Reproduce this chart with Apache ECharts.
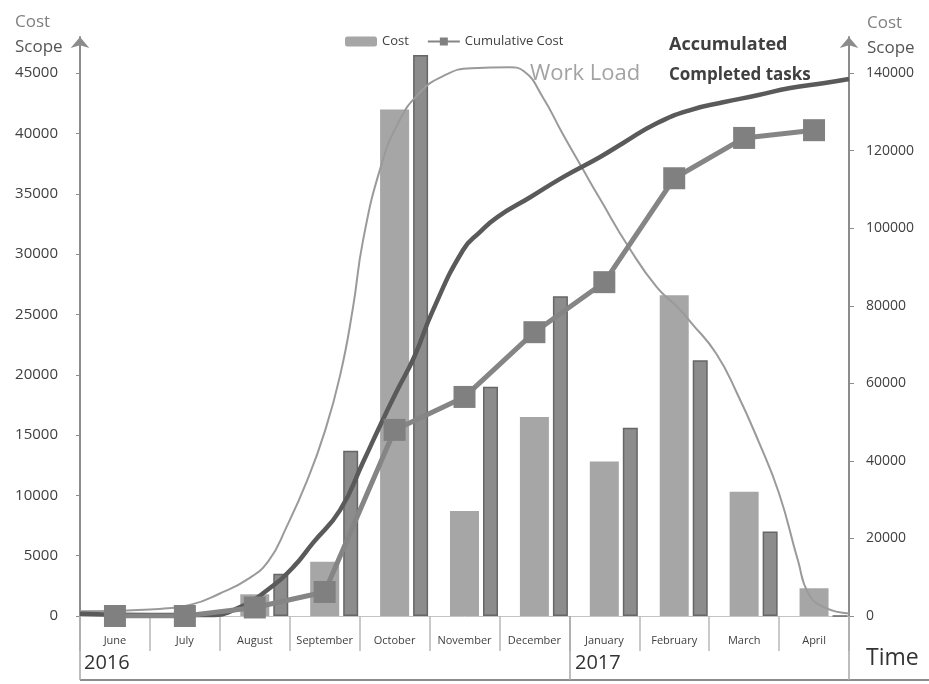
<!DOCTYPE html>
<html>
<head>
<meta charset="utf-8">
<title>Cost and Scope over Time</title>
<script src="https://cdn.jsdelivr.net/npm/echarts@6/dist/echarts.min.js"></script>
<style>
  html, body { margin: 0; padding: 0; background: #ffffff; }
  #chart { width: 929px; height: 684px; }
</style>
</head>
<body>
<div id="chart"></div>
<script>
// Months along the time axis (June 2016 – April 2017)
const months = ['June', 'July', 'August', 'September', 'October', 'November',
                'December', 'January', 'February', 'March', 'April'];

// Monthly cost (light bars, left axis)
const costValues = [0, 0, 1800, 4500, 42000, 8700, 16500, 12800, 26600, 10300, 2300];

// Second monthly cost bar (dark bars, left axis)
const actualCostValues = [0, 0, 3500, 13700, 46500, 19000, 26500, 15600, 21200, 7000, 0];

// Cumulative cost (squares, right axis)
const cumulativeCost = [0, 0, 2200, 6200, 48000, 56500, 73200, 86100, 112900, 123300, 125300];

// Work load curve: [position in months from June start, scope on right axis]
const workLoadCurve = [
  [0.0, 1200], [1.0, 1700], [1.6, 3000], [2.0, 5800], [2.4, 9500], [2.7, 14300],
  [2.95, 22800], [3.25, 35000], [3.5, 47500], [3.72, 62000], [3.9, 79000],
  [4.05, 97000], [4.3, 115700], [4.55, 127100], [4.85, 134800], [5.2, 139300],
  [5.6, 141300], [6.15, 141500], [6.35, 140500], [6.62, 133800], [6.9, 124500],
  [7.2, 115000], [7.45, 107200], [7.85, 95100], [8.25, 84800], [8.55, 79600],
  [8.75, 75500], [9.1, 67700], [9.4, 57400], [9.7, 45300], [10.0, 31600],
  [10.27, 14300], [10.42, 5800], [10.65, 2200], [11.0, 650]
];

// Accumulated completed tasks: [position in months from June start, scope on right axis]
const completedTasksCurve = [
  [0.0, 600], [1.0, 250], [1.86, 250], [2.29, 2300], [2.68, 6700], [3.05, 12600],
  [3.33, 18800], [3.72, 27300], [4.05, 39700], [4.31, 49800], [4.54, 58300],
  [4.78, 66800], [5.05, 78900], [5.48, 94400], [5.72, 99000], [5.97, 102900],
  [6.44, 108000], [6.91, 113200], [7.44, 118400], [7.77, 122000], [8.25, 127100],
  [8.73, 130500], [9.2, 132500], [9.69, 134300], [10.16, 136200], [10.63, 137400],
  [11.0, 138500]
];

// Tick labels on both value axes
const leftTicks = [0, 5000, 10000, 15000, 20000, 25000, 30000, 35000, 40000, 45000];
const rightTicks = [0, 20000, 40000, 60000, 80000, 100000, 120000, 140000];

// Axis ranges: the lines run a little past the top tick so the arrow heads sit above it
const leftMax = 48000;
const rightMax = leftMax * rightTicks[rightTicks.length - 1] / leftTicks[leftTicks.length - 1];

const FONT = 'Open Sans';
const AXIS_GREY = '#8c8c8c';
const plainNumber = function (v) { return String(v); };

const chart = echarts.init(document.getElementById('chart'), null, { renderer: 'canvas' });

const option = {
  backgroundColor: '#ffffff',
  animation: false,
  textStyle: { fontFamily: FONT },
  grid: { left: 80, right: 80, top: 37, bottom: 68, containLabel: false },
  legend: {
    data: ['Cost', 'Cumulative Cost'],
    left: 340,
    top: 30,
    itemWidth: 32,
    itemHeight: 10,
    itemGap: 18,
    textStyle: { fontFamily: FONT, fontSize: 13, color: '#404040' }
  },
  xAxis: [
    {
      // month labels with short dividers between them
      type: 'category',
      data: months,
      position: 'bottom',
      boundaryGap: true,
      axisLine: { lineStyle: { color: '#c4c4c4', width: 1 } },
      axisTick: { show: true, interval: 0, length: 35, lineStyle: { color: '#b8b8b8', width: 1.5 } },
      axisLabel: { interval: 0, margin: 19, fontSize: 11, color: '#404040', fontFamily: FONT },
      splitLine: { show: false }
    },
    {
      // year borders: start of 2016, start of 2017 and the end of the range
      type: 'category',
      data: months,
      position: 'bottom',
      boundaryGap: true,
      axisLine: { show: false },
      axisTick: {
        show: true,
        length: 64,
        interval: function (index) { return index === 0 || index === 7; },
        lineStyle: { color: '#a8a8a8', width: 1.5 }
      },
      axisLabel: { show: false },
      splitLine: { show: false }
    },
    {
      // continuous time scale for the smooth curves
      type: 'value',
      position: 'bottom',
      min: 0,
      max: months.length,
      show: false
    }
  ],
  yAxis: [
    {
      type: 'value',
      position: 'left',
      min: 0,
      max: leftMax,
      axisLine: {
        show: true,
        symbol: ['none', 'arrow'],
        symbolSize: [14, 11],
        lineStyle: { color: AXIS_GREY, width: 2 }
      },
      axisTick: { show: true, inside: false, length: 4, customValues: leftTicks, lineStyle: { color: AXIS_GREY } },
      axisLabel: { customValues: leftTicks, formatter: plainNumber, margin: 22, fontSize: 15, color: '#404040', fontFamily: FONT },
      splitLine: { show: false }
    },
    {
      type: 'value',
      position: 'right',
      min: 0,
      max: rightMax,
      axisLine: {
        show: true,
        symbol: ['none', 'arrow'],
        symbolSize: [14, 11],
        lineStyle: { color: AXIS_GREY, width: 2 }
      },
      axisTick: { show: true, inside: false, length: 5, customValues: rightTicks, lineStyle: { color: AXIS_GREY } },
      axisLabel: { customValues: rightTicks, formatter: plainNumber, margin: 17, fontSize: 14, color: '#404040', fontFamily: FONT },
      splitLine: { show: false }
    }
  ],
  series: [
    {
      // empty slot so the light bar stays centred and the dark bar sits to its right
      name: 'slot',
      type: 'bar',
      xAxisIndex: 0,
      yAxisIndex: 0,
      data: [],
      barWidth: 16.7,
      barGap: '13.8%',
      silent: true
    },
    {
      name: 'Cost',
      type: 'bar',
      xAxisIndex: 0,
      yAxisIndex: 0,
      data: costValues,
      barWidth: 29,
      barGap: '13.8%',
      itemStyle: { color: '#a6a6a6' },
      z: 2
    },
    {
      name: 'Actual Cost',
      type: 'bar',
      xAxisIndex: 0,
      yAxisIndex: 0,
      data: actualCostValues,
      barWidth: 15,
      barGap: '13.8%',
      itemStyle: { color: '#8c8c8c', borderColor: '#666666', borderWidth: 1.5 },
      z: 2
    },
    {
      name: 'Work Load',
      type: 'line',
      xAxisIndex: 2,
      yAxisIndex: 1,
      data: workLoadCurve,
      smooth: 0.5,
      showSymbol: false,
      lineStyle: { color: '#9a9a9a', width: 2 },
      z: 3
    },
    {
      name: 'Accumulated Completed tasks',
      type: 'line',
      xAxisIndex: 2,
      yAxisIndex: 1,
      data: completedTasksCurve,
      smooth: 0.5,
      showSymbol: false,
      lineStyle: { color: '#5a5a5a', width: 4.5 },
      z: 4
    },
    {
      name: 'Cumulative Cost',
      type: 'line',
      xAxisIndex: 0,
      yAxisIndex: 1,
      data: cumulativeCost,
      symbol: 'rect',
      symbolSize: 22,
      lineStyle: { color: '#858585', width: 5 },
      itemStyle: { color: '#808080' },
      z: 5
    }
  ],
  graphic: [
    { type: 'text', left: 15, top: 14, style: { text: 'Cost', font: '17px "Open Sans"', fill: '#808080' } },
    { type: 'text', left: 15, top: 39, style: { text: 'Scope', font: '17px "Open Sans"', fill: '#555555' } },
    { type: 'text', left: 867, top: 15, style: { text: 'Cost', font: '17px "Open Sans"', fill: '#808080' } },
    { type: 'text', left: 867, top: 40, style: { text: 'Scope', font: '17px "Open Sans"', fill: '#555555' } },
    { type: 'text', left: 530, top: 63, style: { text: 'Work Load', font: '22px "Open Sans"', fill: '#a3a3a3' } },
    { type: 'text', left: 669, top: 36, style: { text: 'Accumulated', font: 'bold 18px "Open Sans"', fill: '#404040' } },
    { type: 'text', left: 669, top: 67, style: { text: 'Completed tasks', font: 'bold 17px "Open Sans"', fill: '#404040' } },
    { type: 'text', left: 84, top: 653, style: { text: '2016', font: '20px "Open Sans"', fill: '#333333' } },
    { type: 'text', left: 575, top: 653, style: { text: '2017', font: '20px "Open Sans"', fill: '#333333' } },
    { type: 'text', left: 866, top: 647, style: { text: 'Time', font: '23px "Open Sans"', fill: '#333333' } },
    {
      type: 'line',
      shape: { x1: 80, y1: 680, x2: 929, y2: 680 },
      style: { stroke: AXIS_GREY, lineWidth: 2 }
    }
  ]
};

chart.setOption(option);
</script>
</body>
</html>
